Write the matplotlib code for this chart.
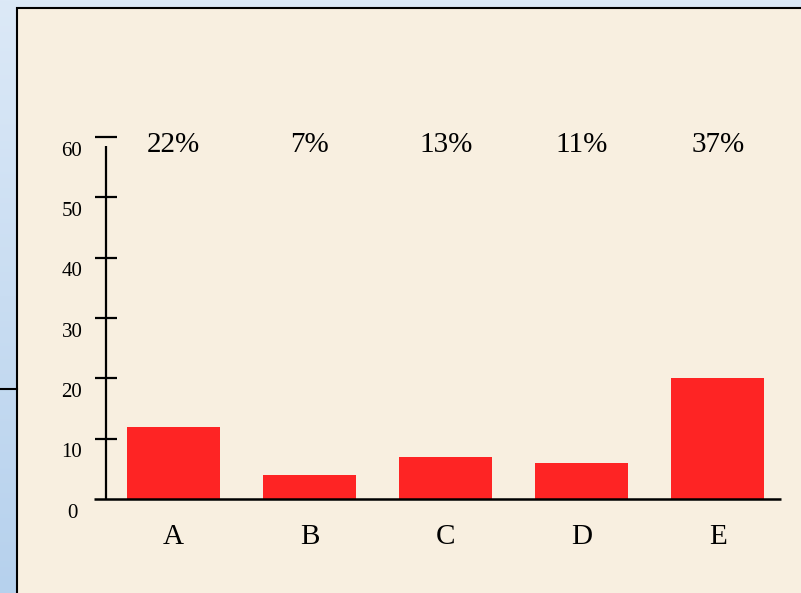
import numpy as np
import matplotlib
matplotlib.use("Agg")
import matplotlib.pyplot as plt
from matplotlib.patches import Rectangle
from matplotlib.lines import Line2D

categories = ["A", "B", "C", "D", "E"]
values = [12, 4, 7, 6, 20]
share_labels = ["22%", "7%", "13%", "11%", "37%"]
y_ticks = [0, 10, 20, 30, 40, 50, 60]

W, H = 801, 593
fig = plt.figure(figsize=(W / 100, H / 100), dpi=100)

# blue gradient backdrop
bg = fig.add_axes([0, 0, 1, 1], zorder=-10)
grad = np.linspace(0, 1, 256).reshape(-1, 1)
top = np.array([220, 233, 247]) / 255
bot = np.array([182, 209, 237]) / 255
img = top + (bot - top) * grad[:, :, None] * np.ones((1, 1, 3))
bg.imshow(img.reshape(256, 1, 3), aspect="auto", extent=[0, 1, 0, 1])
bg.set_axis_off()

# beige slide panel with black border
fig.patches.append(Rectangle((17 / W, -0.05), 1.2, (H - 8) / H + 0.05,
                             transform=fig.transFigure, facecolor="#f8efe0",
                             edgecolor="black", linewidth=1.5, zorder=-5))
fig.lines.append(Line2D([0, 17 / W], [(H - 389) / H] * 2, transform=fig.transFigure,
                        color="black", linewidth=1.5, zorder=-4))

# plotting area in pixel terms
left_px, right_px, bottom_px, top_px = 94, 781, 499, 137
ax = fig.add_axes([left_px / W, (H - bottom_px) / H,
                   (right_px - left_px) / W, (bottom_px - top_px) / H])
ax.set_facecolor("none")
for s in ax.spines.values():
    s.set_visible(False)
ax.set_xticks([])
ax.set_yticks([])

spacing = 136.1
x0 = 173.5
ax.set_xlim((left_px - x0) / spacing, (right_px - x0) / spacing)
ax.set_ylim(0, 60)

x = np.arange(len(categories))
ax.bar(x, values, width=0.684, color="#fe2424", zorder=2)

serif = ["Liberation Serif", "DejaVu Serif"]
y_axis_x = (106 - x0) / spacing
tick_half = 11 / spacing

# axis lines
ax.plot([y_axis_x, y_axis_x], [0, 58.5], color="black", lw=1.6,
        solid_capstyle="butt", clip_on=False, zorder=3)
ax.plot([(left_px - x0) / spacing, (right_px - x0) / spacing], [0, 0],
        color="black", lw=1.8, solid_capstyle="butt", clip_on=False, zorder=3)

# y ticks and labels
for t in y_ticks:
    if t > 0:
        ax.plot([y_axis_x - tick_half, y_axis_x + tick_half], [t, t], color="black",
                lw=1.6, solid_capstyle="butt", clip_on=False, zorder=3)
    ax.text((72 - x0) / spacing, t - 3.1, str(t), ha="center", va="baseline",
            fontsize=15, family=serif, clip_on=False)

# category labels and shares
for xi, cat, share in zip(x, categories, share_labels):
    ax.text(xi, -7.45, cat, ha="center", va="baseline", fontsize=21,
            family=serif, clip_on=False)
    ax.text(xi, 57.55, share, ha="center", va="baseline", fontsize=21,
            family=serif, clip_on=False)

fig.savefig("out.png", dpi=100)
